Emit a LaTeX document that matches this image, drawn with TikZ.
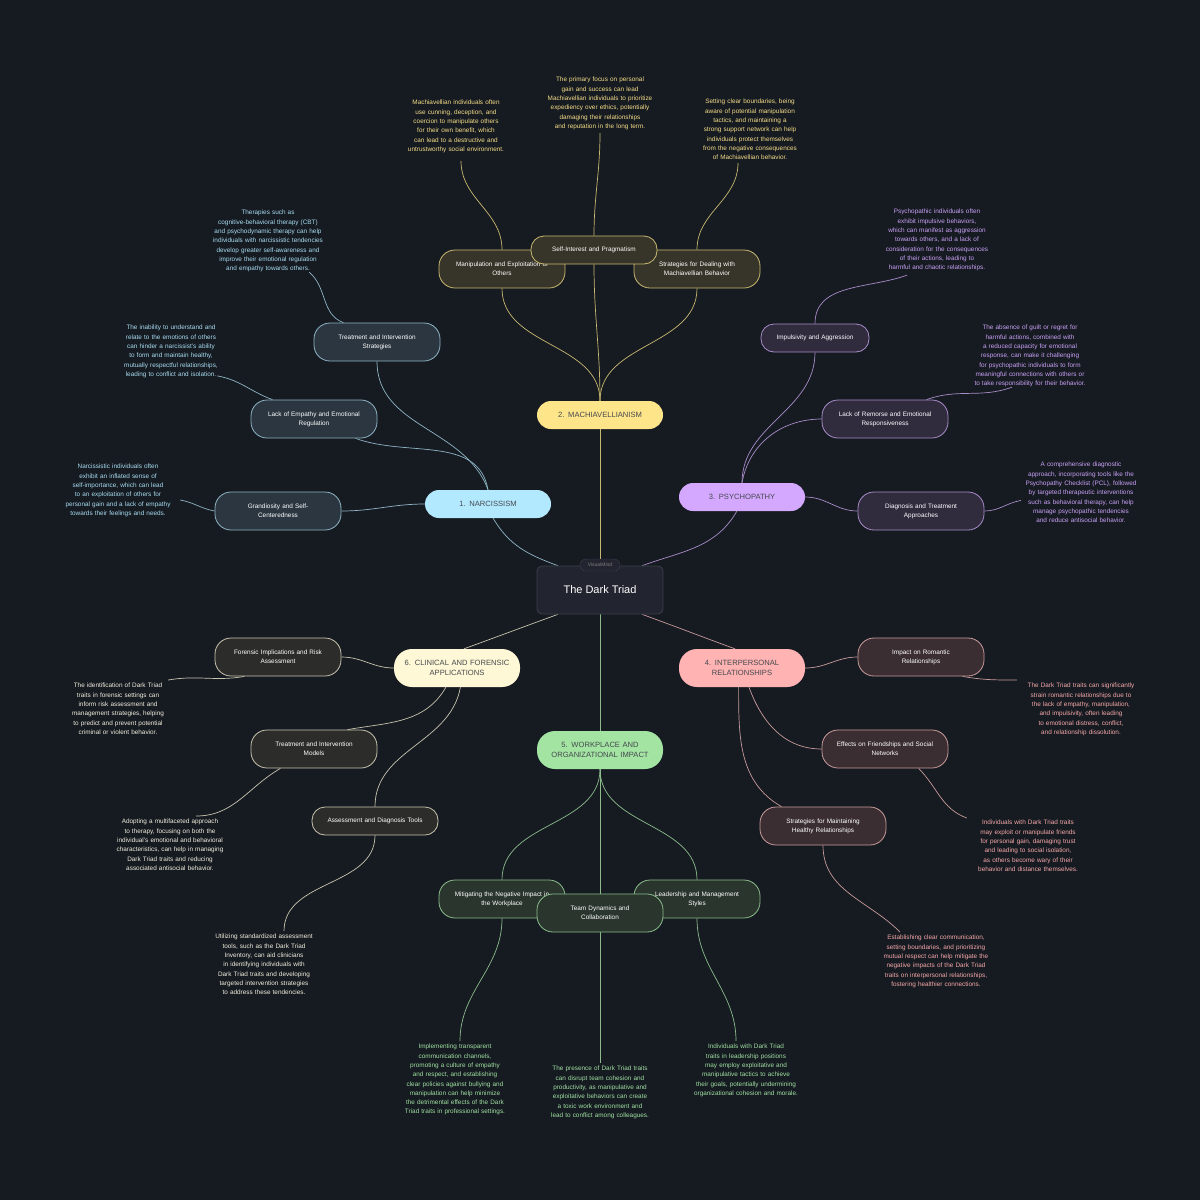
\documentclass[tikz,border=0pt]{standalone}
\usepackage{fontspec}
\setmainfont{Liberation Sans}
\pgfdeclarelayer{back}
\pgfdeclarelayer{bg}
\pgfsetlayers{back,bg,main}
\definecolor{bgc}{HTML}{161B22}
\definecolor{nA}{HTML}{B3E9FF}\definecolor{nF}{HTML}{2B3640}\definecolor{nT}{HTML}{A8DCF0}\definecolor{nL}{HTML}{8FB4C4}
\definecolor{mA}{HTML}{FFE58A}\definecolor{mF}{HTML}{37352A}\definecolor{mT}{HTML}{F5DC87}\definecolor{mL}{HTML}{C9B870}
\definecolor{pA}{HTML}{D4A8FF}\definecolor{pF}{HTML}{312B3E}\definecolor{pT}{HTML}{C9A0F5}\definecolor{pL}{HTML}{A88CC8}
\definecolor{iA}{HTML}{FFB3B3}\definecolor{iF}{HTML}{3A2E32}\definecolor{iT}{HTML}{F5A8A8}\definecolor{iL}{HTML}{C89A9A}
\definecolor{wA}{HTML}{A3E4A3}\definecolor{wF}{HTML}{29352D}\definecolor{wT}{HTML}{A0E0A0}\definecolor{wL}{HTML}{8CBC8C}
\definecolor{cA}{HTML}{FFF8D6}\definecolor{cF}{HTML}{2C2C2A}\definecolor{cT}{HTML}{F2EEDD}\definecolor{cL}{HTML}{C8C4AE}
\definecolor{rootF}{HTML}{22252F}\definecolor{rootL}{HTML}{3A3F4A}
\tikzset{
 mainbox/.style={rounded corners=14pt,minimum width=126pt,minimum height=28pt,text width=118pt,align=center,font=\fontsize{7.6}{10}\selectfont,text=bgc!80!white},
 childbox/.style={draw,line width=0.8pt,rounded corners=16pt,minimum width=126pt,minimum height=38pt,text width=112pt,align=center,font=\fontsize{6.4}{9.3}\selectfont,text=white},
 desc/.style={anchor=north,text width=112pt,align=center,font=\fontsize{6.4}{9.3}\selectfont,inner sep=0pt},
 conn/.style={line width=0.7pt},
}
\hyphenpenalty=10000 \exhyphenpenalty=10000
\begin{document}
\begin{tikzpicture}[x=1pt,y=-1pt]
\begin{pgfonlayer}{back}
\fill[bgc] (0,0) rectangle (1200,1200);
\end{pgfonlayer}
\useasboundingbox (0,0) rectangle (1200,1200);
% root
\node[draw=rootL,fill=rootF,rounded corners=5pt,minimum width=126pt,minimum height=48pt,text=white,font=\fontsize{11}{13}\selectfont,line width=0.8pt] (root) at (600,590) {The Dark Triad};
\node[draw=rootL,fill=rootF,rounded corners=6pt,minimum width=40pt,minimum height=12pt,inner sep=1pt,text=gray,font=\fontsize{5}{6}\selectfont] (tag) at (600,565) {VisualMind};
% main
\node[mainbox,fill=nA] (n1) at (488,504) {1. NARCISSISM};
\node[mainbox,fill=mA] (m2) at (600,415) {2. MACHIAVELLIANISM};
\node[mainbox,fill=pA] (p3) at (742,497) {3. PSYCHOPATHY};
\node[mainbox,fill=iA,minimum height=38pt,rounded corners=18pt] (i4) at (742,668) {4. INTERPERSONAL\\RELATIONSHIPS};
\node[mainbox,fill=wA,minimum height=38pt,rounded corners=18pt] (w5) at (600,750) {5. WORKPLACE AND\\ORGANIZATIONAL IMPACT};
\node[mainbox,fill=cA,minimum height=38pt,rounded corners=18pt] (c6) at (457,668) {6. CLINICAL AND FORENSIC\\APPLICATIONS};
% narcissism children
\node[childbox,draw=nL,fill=nF] (n1a) at (278,511) {Grandiosity and Self-\\Centeredness};
\node[childbox,draw=nL,fill=nF] (n1b) at (314,419) {Lack of Empathy and Emotional\\Regulation};
\node[childbox,draw=nL,fill=nF] (n1c) at (377,342) {Treatment and Intervention\\Strategies};
\node[desc,text=nT] (n1ad) at (118,464) {Narcissistic individuals often exhibit an inflated sense of self-importance, which can lead to an exploitation of others for personal gain and a lack of empathy towards their feelings and needs.};
\node[desc,text=nT] (n1bd) at (171,325) {The inability to understand and relate to the emotions of others can hinder a narcissist's ability to form and maintain healthy, mutually respectful relationships, leading to conflict and isolation.};
\node[desc,text=nT] (n1cd) at (268,210) {Therapies such as cognitive-behavioral therapy (CBT) and psychodynamic therapy can help individuals with narcissistic tendencies develop greater self-awareness and improve their emotional regulation and empathy towards others.};
% mach children
\node[childbox,draw=mL,fill=mF] (m2a) at (502,269) {Manipulation and Exploitation of\\Others};
\node[childbox,draw=mL,fill=mF] (m2c) at (697,269) {Strategies for Dealing with\\Machiavellian Behavior};
\node[childbox,draw=mL,fill=mF,minimum height=28pt,rounded corners=13pt] (m2b) at (594,250) {Self-Interest and Pragmatism};
\node[desc,text=mT] (m2ad) at (456,100) {Machiavellian individuals often use cunning, deception, and coercion to manipulate others for their own benefit, which can lead to a destructive and untrustworthy social environment.};
\node[desc,text=mT] (m2bd) at (600,77) {The primary focus on personal gain and success can lead Machiavellian individuals to prioritize expediency over ethics, potentially damaging their relationships and reputation in the long term.};
\node[desc,text=mT] (m2cd) at (750,99) {Setting clear boundaries, being aware of potential manipulation tactics, and maintaining a strong support network can help individuals protect themselves from the negative consequences of Machiavellian behavior.};
% psych children
\node[childbox,draw=pL,fill=pF,minimum width=108pt,text width=100pt,minimum height=28pt,rounded corners=13pt] (p3a) at (815,338) {Impulsivity and Aggression};
\node[childbox,draw=pL,fill=pF] (p3b) at (885,419) {Lack of Remorse and Emotional\\Responsiveness};
\node[childbox,draw=pL,fill=pF] (p3c) at (921,511) {Diagnosis and Treatment\\Approaches};
\node[desc,text=pT] (p3ad) at (937,209) {Psychopathic individuals often exhibit impulsive behaviors, which can manifest as aggression towards others, and a lack of consideration for the consequences of their actions, leading to harmful and chaotic relationships.};
\node[desc,text=pT] (p3bd) at (1030,325) {The absence of guilt or regret for harmful actions, combined with a reduced capacity for emotional response, can make it challenging for psychopathic individuals to form meaningful connections with others or to take responsibility for their behavior.};
\node[desc,text=pT] (p3cd) at (1081,462) {A comprehensive diagnostic approach, incorporating tools like the Psychopathy Checklist (PCL), followed by targeted therapeutic interventions such as behavioral therapy, can help manage psychopathic tendencies and reduce antisocial behavior.};
% interpersonal children
\node[childbox,draw=iL,fill=iF] (i4a) at (921,657) {Impact on Romantic\\Relationships};
\node[childbox,draw=iL,fill=iF] (i4b) at (885,749) {Effects on Friendships and Social\\Networks};
\node[childbox,draw=iL,fill=iF] (i4c) at (823,826) {Strategies for Maintaining\\Healthy Relationships};
\node[desc,text=iT] (i4ad) at (1081,683) {The Dark Triad traits can significantly strain romantic relationships due to the lack of empathy, manipulation, and impulsivity, often leading to emotional distress, conflict, and relationship dissolution.};
\node[desc,text=iT] (i4bd) at (1028,820) {Individuals with Dark Triad traits may exploit or manipulate friends for personal gain, damaging trust and leading to social isolation, as others become wary of their behavior and distance themselves.};
\node[desc,text=iT] (i4cd) at (936,935) {Establishing clear communication, setting boundaries, and prioritizing mutual respect can help mitigate the negative impacts of the Dark Triad traits on interpersonal relationships, fostering healthier connections.};
% workplace children
\node[childbox,draw=wL,fill=wF] (w5a) at (502,899) {Mitigating the Negative Impact in\\the Workplace};
\node[childbox,draw=wL,fill=wF] (w5c) at (697,899) {Leadership and Management\\Styles};
\node[childbox,draw=wL,fill=wF] (w5b) at (600,913) {Team Dynamics and\\Collaboration};
\node[desc,text=wT] (w5ad) at (455,1044) {Implementing transparent communication channels, promoting a culture of empathy and respect, and establishing clear policies against bullying and manipulation can help minimize the detrimental effects of the Dark Triad traits in professional settings.};
\node[desc,text=wT] (w5bd) at (600,1066) {The presence of Dark Triad traits can disrupt team cohesion and productivity, as manipulative and exploitative behaviors can create a toxic work environment and lead to conflict among colleagues.};
\node[desc,text=wT] (w5cd) at (746,1044) {Individuals with Dark Triad traits in leadership positions may employ exploitative and manipulative tactics to achieve their goals, potentially undermining organizational cohesion and morale.};
% clinical children
\node[childbox,draw=cL,fill=cF] (c6a) at (278,657) {Forensic Implications and Risk\\Assessment};
\node[childbox,draw=cL,fill=cF] (c6b) at (314,749) {Treatment and Intervention\\Models};
\node[childbox,draw=cL,fill=cF,minimum height=28pt,rounded corners=13pt] (c6c) at (375,821) {Assessment and Diagnosis Tools};
\node[desc,text=cT] (c6ad) at (118,683) {The identification of Dark Triad traits in forensic settings can inform risk assessment and management strategies, helping to predict and prevent potential criminal or violent behavior.};
\node[desc,text=cT] (c6bd) at (170,819) {Adopting a multifaceted approach to therapy, focusing on both the individual's emotional and behavioral characteristics, can help in managing Dark Triad traits and reducing associated antisocial behavior.};
\node[desc,text=cT] (c6cd) at (264,934) {Utilizing standardized assessment tools, such as the Dark Triad Inventory, can aid clinicians in identifying individuals with Dark Triad traits and developing targeted intervention strategies to address these tendencies.};
\begin{pgfonlayer}{bg}
% root links
\draw[conn,nL] (root.150) to[out=160,in=-60] (n1.-70);
\draw[conn,mL] (root.north) -- (m2.south);
\draw[conn,pL] (root.30) to[out=20,in=-120] (p3.-110);
\draw[conn,iL] (root.-30) to[out=-20,in=160] (i4.110);
\draw[conn,wL] (root.south) -- (w5.north);
\draw[conn,cL] (root.-150) to[out=-160,in=20] (c6.70);
% narcissism
\draw[conn,nL] (n1.west) to[out=180,in=0] (n1a.east);
\draw[conn,nL] (n1.north) to[out=100,in=-20] (n1b.-25);
\draw[conn,nL] (n1.north) to[out=110,in=-90] (n1c.south);
\draw[conn,nL] (n1a.west) to[out=170,in=-10] ([xshift=6pt,yshift=-36pt]n1ad.north east);
\draw[conn,nL] (n1b.155) to[out=160,in=-10] ([xshift=-10pt,yshift=2pt]n1bd.south east);
\draw[conn,nL] (n1c.150) to[out=160,in=-40] ([xshift=-15pt]n1cd.south east);
% mach
\draw[conn,mL] (m2.north) to[out=90,in=-90] (m2a.south);
\draw[conn,mL] (m2.north) to[out=90,in=-90] (m2b.south);
\draw[conn,mL] (m2.north) to[out=90,in=-90] (m2c.south);
\draw[conn,mL] (m2a.north) to[out=90,in=-90] ([xshift=5pt,yshift=-8pt]m2ad.south);
\draw[conn,mL] (m2b.north) to[out=90,in=-90] ([yshift=-3pt]m2bd.south);
\draw[conn,mL] (m2c.north) to[out=90,in=-90] ([xshift=-12pt,yshift=-3pt]m2cd.south);
% psych
\draw[conn,pL] (p3.north) to[out=90,in=-90] (p3a.south);
\draw[conn,pL] (p3.north) to[out=80,in=180] (p3b.west);
\draw[conn,pL] (p3.east) to[out=0,in=180] (p3c.west);
\draw[conn,pL] (p3a.north) to[out=90,in=-160] ([xshift=-30pt,yshift=-4pt]p3ad.south);
\draw[conn,pL] (p3b.25) to[out=20,in=-160] ([xshift=-18pt]p3bd.south);
\draw[conn,pL] (p3c.east) to[out=0,in=-170] ([xshift=-4pt,yshift=-8pt]p3cd.west);
% interpersonal
\draw[conn,iL] (i4.east) to[out=0,in=180] (i4a.west);
\draw[conn,iL] (i4.-70) to[out=-70,in=180] (i4b.west);
\draw[conn,iL] (i4.-100) to[out=-90,in=150] (i4c.155);
\draw[conn,iL] (i4a.-25) to[out=-10,in=180] ([xshift=-8pt,yshift=3pt]i4ad.north west);
\draw[conn,iL] (i4b.-30) to[out=-45,in=160] ([xshift=-5pt,yshift=2pt]i4bd.north west);
\draw[conn,iL] (i4c.south) to[out=-90,in=135] ([xshift=-36pt,yshift=3pt]i4cd.north);
% workplace
\draw[conn,wL] (w5.south) to[out=-90,in=90] (w5a.north);
\draw[conn,wL] (w5.south) -- (w5b.north);
\draw[conn,wL] (w5.south) to[out=-90,in=90] (w5c.north);
\draw[conn,wL] (w5a.south) to[out=-90,in=90] ([xshift=5pt,yshift=3pt]w5ad.north);
\draw[conn,wL] (w5b.south) -- ([yshift=3pt]w5bd.north);
\draw[conn,wL] (w5c.south) to[out=-90,in=90] ([xshift=-10pt,yshift=3pt]w5cd.north);
% clinical
\draw[conn,cL] (c6.west) to[out=180,in=0] (c6a.east);
\draw[conn,cL] (c6.-120) to[out=-120,in=10] (c6b.30);
\draw[conn,cL] (c6.-80) to[out=-100,in=90] (c6c.north);
\draw[conn,cL] (c6a.-150) to[out=-170,in=10] ([xshift=-6pt,yshift=3pt]c6ad.north east);
\draw[conn,cL] (c6b.-150) to[out=-150,in=0] ([xshift=-30pt,yshift=3pt]c6bd.north east);
\draw[conn,cL] (c6c.south) to[out=-90,in=90] ([xshift=20pt,yshift=3pt]c6cd.north);
\end{pgfonlayer}
\end{tikzpicture}
\end{document}
